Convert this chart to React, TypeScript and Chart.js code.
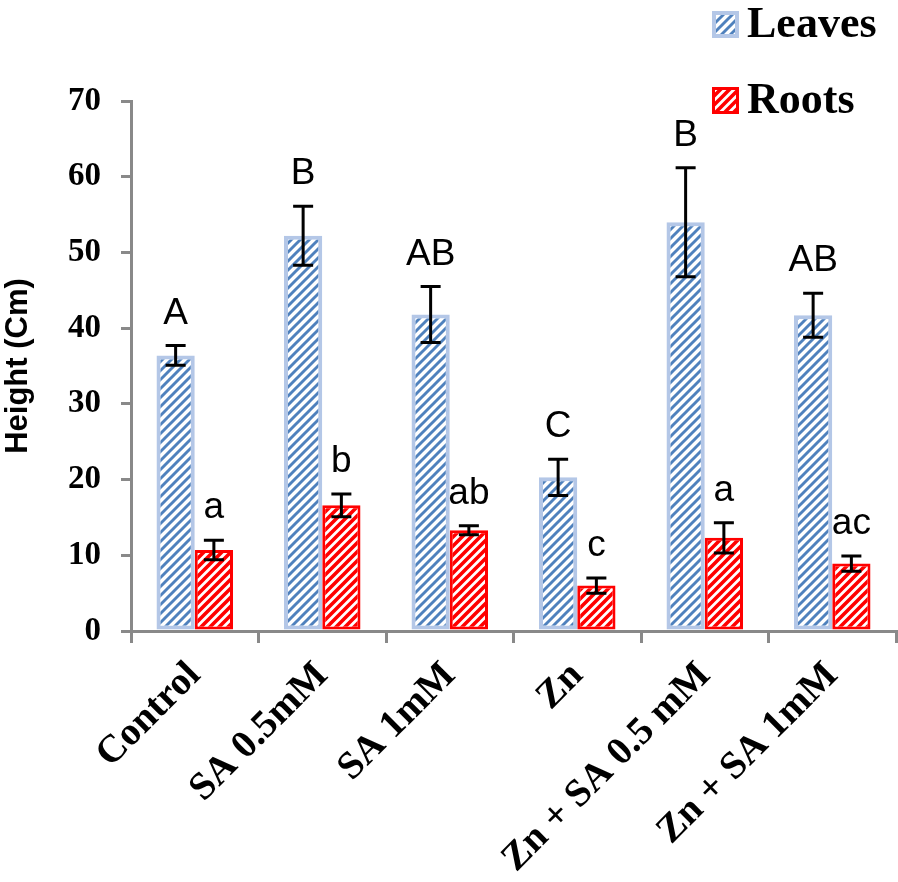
import React, { useEffect, useRef } from 'react';
import { Chart, registerables } from 'chart.js';

Chart.register(...registerables);

const categories = ['Control', 'SA 0.5mM', 'SA 1mM', 'Zn', 'Zn + SA 0.5 mM', 'Zn + SA 1mM'];
const leavesValues = [36.4, 52.2, 41.8, 20.3, 54.0, 41.7];
const leavesErrors = [1.3, 3.9, 3.7, 2.4, 7.2, 2.9];
const leavesLetters = ['A', 'B', 'AB', 'C', 'B', 'AB'];
const rootsValues = [10.7, 16.6, 13.3, 6.0, 12.3, 8.9];
const rootsErrors = [1.3, 1.5, 0.6, 1.0, 2.0, 1.0];
const rootsLetters = ['a', 'b', 'ab', 'c', 'a', 'ac'];
const yMin = 0;
const yMax = 70;
const yStep = 10;

const errorsBySeries = [leavesErrors, rootsErrors];
const lettersBySeries = [leavesLetters, rootsLetters];

function makePattern(fg: string, bg: string, size: number, lw: number) {
  const c = document.createElement('canvas');
  c.width = size;
  c.height = size;
  const g = c.getContext('2d')!;
  g.imageSmoothingEnabled = false;
  g.fillStyle = bg;
  g.fillRect(0, 0, size, size);
  g.strokeStyle = fg;
  g.lineWidth = lw;
  g.beginPath();
  for (let k = -1; k <= 1; k++) {
    g.moveTo(k * size - 2, size + 2);
    g.lineTo(k * size + size + 2, -2);
  }
  g.stroke();
  return g.createPattern(c, 'repeat')!;
}

const overlayPlugin = {
  id: 'overlay',
  afterDatasetsDraw(chart: any) {
    const ctx = chart.ctx;
    const yScale = chart.scales.y;
    chart.data.datasets.forEach((ds: any, i: number) => {
      const meta = chart.getDatasetMeta(i);
      const errs = errorsBySeries[i];
      const letters = lettersBySeries[i];
      meta.data.forEach((bar: any, j: number) => {
        const v = ds.data[j];
        const x = bar.x;
        const yTop = yScale.getPixelForValue(v + errs[j]);
        const yBot = yScale.getPixelForValue(v - errs[j]);
        ctx.save();
        ctx.strokeStyle = '#000';
        ctx.lineWidth = 3;
        ctx.beginPath();
        ctx.moveTo(x, yTop);
        ctx.lineTo(x, yBot);
        ctx.moveTo(x - 10, yTop);
        ctx.lineTo(x + 10, yTop);
        ctx.moveTo(x - 10, yBot);
        ctx.lineTo(x + 10, yBot);
        ctx.stroke();
        ctx.fillStyle = '#000';
        ctx.font = '37px "Liberation Sans", Arial, sans-serif';
        ctx.textAlign = 'center';
        ctx.textBaseline = 'alphabetic';
        ctx.fillText(letters[j], x, yTop - 22);
        ctx.restore();
      });
    });
  },
  afterDraw(chart: any) {
    const ctx = chart.ctx;
    const rows = [11, 87];
    chart.data.datasets.forEach((ds: any, i: number) => {
      const top = rows[i];
      const bw = ds.borderWidth;
      ctx.save();
      ctx.fillStyle = ds.borderColor;
      ctx.fillRect(712, top, 27, 27);
      ctx.fillStyle = ds.backgroundColor;
      ctx.fillRect(712 + bw, top + bw, 27 - 2 * bw, 27 - 2 * bw);
      ctx.fillStyle = '#000';
      ctx.font = 'bold 44px "Liberation Serif", "Times New Roman", serif';
      ctx.textAlign = 'left';
      ctx.textBaseline = 'alphabetic';
      ctx.fillText(ds.label, 747, top + 26);
      ctx.restore();
    });
  },
};

export default function App() {
  const ref = useRef<HTMLCanvasElement>(null);
  useEffect(() => {
    document.body.style.margin = '0';
    const leafPattern = makePattern('#4f81bd', '#ffffff', 9, 2.9);
    const rootPattern = makePattern('#ff0000', '#ffffff', 9, 3.6);
    const axisGray = '#898989';
    const chart = new Chart(ref.current!, {
      type: 'bar',
      data: {
        labels: categories,
        datasets: [
          {
            label: 'Leaves',
            data: leavesValues,
            backgroundColor: leafPattern as any,
            borderColor: '#b4c7e7',
            borderWidth: 4,
            borderSkipped: false,
            categoryPercentage: 0.6,
            barPercentage: 1.0,
          },
          {
            label: 'Roots',
            data: rootsValues,
            backgroundColor: rootPattern as any,
            borderColor: '#ff0000',
            borderWidth: 3,
            borderSkipped: false,
            categoryPercentage: 0.6,
            barPercentage: 1.0,
          },
        ],
      },
      options: {
        animation: false,
        responsive: true,
        maintainAspectRatio: false,
        layout: { padding: { top: 101, right: 2, left: 0, bottom: 0 } },
        plugins: {
          legend: { display: false },
          tooltip: { enabled: false },
        },
        scales: {
          x: {
            grid: {
              drawOnChartArea: false,
              drawTicks: true,
              tickLength: 12,
              color: axisGray,
              lineWidth: 3,
              offset: true,
            },
            border: { color: axisGray, width: 3 },
            ticks: {
              minRotation: 45,
              maxRotation: 45,
              autoSkip: false,
              padding: 10,
              color: '#000',
              font: { family: '"Liberation Serif", "Times New Roman", serif', size: 39, weight: 'bold' },
            },
            afterFit: (scale: any) => {
              scale.height = 251;
            },
          },
          y: {
            min: yMin,
            max: yMax,
            grid: {
              drawOnChartArea: false,
              drawTicks: true,
              tickLength: 10,
              color: axisGray,
              lineWidth: 3,
            },
            border: { color: axisGray, width: 3 },
            ticks: {
              stepSize: yStep,
              padding: 20,
              color: '#000',
              font: { family: '"Liberation Serif", "Times New Roman", serif', size: 33, weight: 'bold' },
            },
            title: {
              display: true,
              text: 'Height (Cm)',
              color: '#000',
              padding: 0,
              font: { family: '"Liberation Sans", Arial, sans-serif', size: 31, weight: 'bold' },
            },
            afterFit: (scale: any) => {
              scale.width = 131;
            },
          },
        },
      },
      plugins: [overlayPlugin],
    });
    return () => chart.destroy();
  }, []);
  return (
    <div style={{ position: 'relative', width: 898, height: 882 }}>
      <canvas ref={ref} />
    </div>
  );
}
